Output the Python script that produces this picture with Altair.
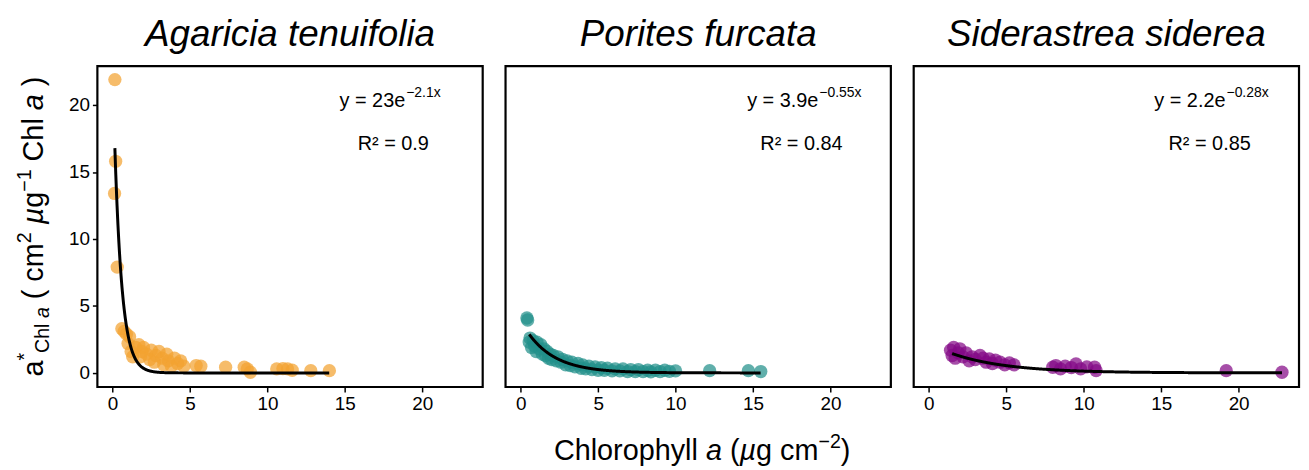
import altair as alt
import pandas as pd

FONT = "Liberation Sans"

species = ["Agaricia tenuifolia", "Porites furcata", "Siderastrea siderea"]
colors = ["#F2A230", "#22908B", "#840A86"]
fit_a = [23, 3.9, 2.2]
fit_b = [-2.1, -0.55, -0.28]
fit_xmin = [0.15, 0.55, 1.5]
fit_xmax = [14.0, 15.5, 22.8]
eq_main = ["y = 23e", "y = 3.9e", "y = 2.2e"]
eq_sup = ["\u22122.1x", "\u22120.55x", "\u22120.28x"]
r2_text = ["R\u00b2 = 0.9", "R\u00b2 = 0.84", "R\u00b2 = 0.85"]
x_ticks = [0, 5, 10, 15, 20]
y_ticks = [0, 5, 10, 15, 20]

agaricia_x = [0.15, 0.2, 0.13, 0.3, 0.6, 0.75, 0.9, 1.1, 1.0, 1.3, 1.2, 1.5, 1.7, 1.9,
              1.8, 2.0, 2.2, 2.4, 2.5, 2.7, 2.8, 3.0, 3.2, 3.3, 3.5, 3.6, 3.8, 4.0,
              4.2, 4.4, 4.6, 5.4, 5.7, 7.3, 8.5, 8.7, 8.9, 10.6, 11.0, 11.3, 11.6,
              12.8, 14.0]
agaricia_y = [21.9, 15.8, 13.4, 7.9, 3.3, 3.1, 2.9, 2.7, 2.2, 1.2, 1.6, 1.9, 2.1, 1.6,
              1.2, 1.9, 1.4, 1.0, 1.7, 0.8, 1.3, 1.6, 1.1, 0.6, 1.4, 0.9, 0.5, 1.1,
              0.7, 0.9, 0.5, 0.55, 0.5, 0.42, 0.42, 0.3, 0.05, 0.3, 0.32, 0.3, 0.2,
              0.17, 0.17]

porites_x = [0.4, 0.45, 0.55, 0.6, 0.7, 0.8, 0.9, 1.0, 1.05, 1.2, 1.3, 1.4, 1.5, 1.6,
             1.7, 1.8, 1.9, 2.0, 2.1, 2.3, 2.4, 2.6, 2.7, 2.9, 3.0, 3.2, 3.3, 3.5,
             3.7, 3.9, 4.0, 4.2, 4.4, 4.6, 4.8, 5.0, 5.2, 5.4, 5.6, 5.9, 6.1, 6.4,
             6.6, 6.9, 7.1, 7.4, 7.6, 7.9, 8.2, 8.4, 8.7, 9.0, 9.3, 9.6, 10.0,
             12.2, 14.7, 15.5]
porites_y = [4.1, 3.95, 2.3, 2.6, 1.9, 2.4, 2.0, 1.6, 2.3, 1.8, 2.1, 1.4, 1.8, 1.3,
             1.6, 1.1, 1.4, 1.0, 1.3, 0.9, 1.2, 0.8, 1.0, 0.6, 0.9, 0.55, 0.8, 0.45,
             0.7, 0.35, 0.6, 0.3, 0.5, 0.25, 0.45, 0.2, 0.4, 0.2, 0.35, 0.15, 0.3,
             0.15, 0.3, 0.1, 0.25, 0.1, 0.25, 0.1, 0.2, 0.08, 0.2, 0.1, 0.2, 0.12,
             0.15, 0.17, 0.17, 0.1]

siderastrea_x = [1.4, 1.6, 1.5, 1.7, 1.9, 2.0, 2.2, 2.4, 2.6, 2.8, 3.0, 3.3, 3.5, 3.7,
                 3.9, 4.1, 4.3, 4.6, 4.9, 5.2, 5.5, 8.0, 8.2, 8.5, 8.8, 9.2, 9.5, 9.8,
                 10.2, 10.7, 10.8, 19.2, 22.8]
siderastrea_y = [1.7, 1.9, 1.3, 1.1, 1.5, 1.8, 1.2, 1.5, 0.9, 1.2, 1.0, 1.3, 1.1, 0.8,
                 1.05, 0.7, 0.95, 0.8, 0.6, 0.75, 0.6, 0.42, 0.55, 0.3, 0.5, 0.4, 0.67,
                 0.3, 0.45, 0.42, 0.17, 0.17, 0.05]

all_x = [agaricia_x, porites_x, siderastrea_x]
all_y = [agaricia_y, porites_y, siderastrea_y]

# axis title tokens: (text, kind) where kind is n=normal, i=italic, sup, sub
ytitle_tokens = [("a", "n"), ("*", "sup"), ("Chl ", "sub"), ("a", "subi"), (" ( cm", "n"),
                 ("2", "sup"), (" ", "n"), ("\u00b5", "i"), ("g", "n"), ("\u22121", "sup"),
                 (" Chl ", "n"), ("a", "i"), (" )", "n")]
xtitle_tokens = [("Chlorophyll ", "n"), ("a", "i"), (" (", "n"), ("\u00b5", "i"), ("g cm", "n"),
                 ("\u22122", "sup"), (")", "n")]

X_DOM = [-0.98, 23.9]
Y_DOM = [-1.05, 22.9]
W, H = 388, 323
TITLE_SIZE = 29
SMALL_RATIO = 0.68

# approximate Arial advance widths (em) for the title glyphs
CHAR_W = {"C": .722, "h": .556, "l": .222, "o": .556, "r": .333, "p": .556, "y": .5,
          " ": .278, "a": .556, "(": .333, ")": .333, "\u00b5": .576, "g": .556,
          "c": .5, "m": .833, "\u2212": .584, "1": .556, "2": .556, "*": .389}


def tok_size(kind):
    return TITLE_SIZE * SMALL_RATIO if kind in ("sup", "sub", "subi") else TITLE_SIZE


def str_width(txt, kind):
    return sum(CHAR_W.get(c, .556) for c in txt) * tok_size(kind)


def layout(tokens, center):
    total = sum(str_width(t, k) for t, k in tokens)
    pos = center - total / 2
    out = []
    for t, k in tokens:
        lead = len(t) - len(t.lstrip(" "))
        start = pos + str_width(t[:lead], k)
        core = t.strip(" ")
        if core:
            out.append((core, k, start))
        pos += str_width(t, k)
    return out


def text_piece(txt, x, y, size, italic, angle=0):
    kw = dict(align="left", baseline="alphabetic", font=FONT, fontSize=size,
              color="black")
    if italic:
        kw["fontStyle"] = "italic"
    if angle:
        kw["angle"] = angle
    return alt.Chart(pd.DataFrame({"t": [txt]})).mark_text(**kw).encode(
        x=alt.value(x), y=alt.value(y), text="t:N")


def shift(kind):
    if kind == "sup":
        return -0.42 * TITLE_SIZE
    if kind in ("sub", "subi"):
        return 0.22 * TITLE_SIZE
    return 0


def panel(i):
    df = pd.DataFrame({"x": all_x[i], "y": all_y[i]})
    xs = alt.Scale(domain=X_DOM, nice=False, zero=False)
    ys = alt.Scale(domain=Y_DOM, nice=False, zero=False)
    xaxis = alt.Axis(values=x_ticks, title=None, format="d")
    if i == 0:
        yaxis = alt.Axis(values=y_ticks, title=None, format="d")
    else:
        yaxis = None
    pts = alt.Chart(df).mark_circle(size=180, opacity=0.72, color=colors[i]).encode(
        x=alt.X("x:Q", scale=xs, axis=xaxis),
        y=alt.Y("y:Q", scale=ys, axis=yaxis),
    )
    fit = (
        alt.Chart(alt.sequence(start=fit_xmin[i], stop=fit_xmax[i] + 0.001, step=0.02, as_="x"))
        .transform_calculate(y=f"{fit_a[i]} * exp({fit_b[i]} * datum.x)")
        .mark_line(color="black", strokeWidth=3)
        .encode(x=alt.X("x:Q", scale=xs), y=alt.Y("y:Q", scale=ys))
    )
    eq_x = [310, 315, 314][i]
    layers = [pts, fit]
    layers.append(
        alt.Chart(pd.DataFrame({"t": [eq_main[i]]})).mark_text(
            align="right", baseline="alphabetic", font=FONT, fontSize=20, color="black"
        ).encode(x=alt.value(eq_x), y=alt.value(41), text="t:N")
    )
    layers.append(
        alt.Chart(pd.DataFrame({"t": [eq_sup[i]]})).mark_text(
            align="left", baseline="alphabetic", font=FONT, fontSize=14, color="black"
        ).encode(x=alt.value(eq_x + 1), y=alt.value(31), text="t:N")
    )
    layers.append(
        alt.Chart(pd.DataFrame({"t": [r2_text[i]]})).mark_text(
            align="center", baseline="alphabetic", font=FONT, fontSize=20, color="black"
        ).encode(x=alt.value(298), y=alt.value(84), text="t:N")
    )
    if i == 0:
        # rotated title: text runs upward, position measured from the bottom
        base_x = -55
        for t, k, p in layout(ytitle_tokens, 0):
            y0 = H / 2 - p
            layers.append(text_piece(t, base_x + shift(k), y0, tok_size(k),
                                     k in ("i", "subi"), angle=270))
    if i == 1:
        base_y = 397
        for t, k, p in layout(xtitle_tokens, W / 2 + 4):
            layers.append(text_piece(t, p, base_y + shift(k), tok_size(k),
                                     k in ("i", "subi")))
    return alt.layer(*layers).properties(
        width=W, height=H,
        title=alt.TitleParams(species[i], font=FONT, fontSize=37, fontStyle="italic",
                              fontWeight="normal", color="black", anchor="middle",
                              offset=12),
    )


chart = (
    alt.hconcat(panel(0), panel(1), panel(2), spacing=19)
    .properties(padding={"left": 5, "top": 5, "right": 0, "bottom": 0})
    .configure_view(stroke="black", strokeWidth=2.2)
    .configure_axis(
        grid=False, domain=False, labelFont=FONT, labelFontSize=19, labelColor="black",
        tickColor="black", tickSize=5, tickWidth=1.5, labelPadding=3,
    )
)

chart.save("out.html", embed_options={"renderer": "svg", "actions": False})
